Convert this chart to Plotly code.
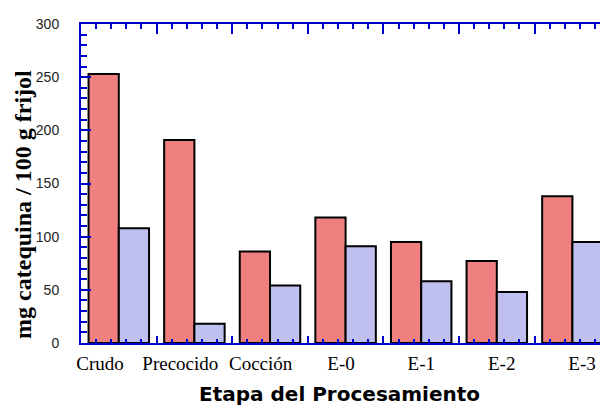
import plotly.graph_objects as go

categories = ["Crudo", "Precocido", "Cocción", "E-0", "E-1", "E-2", "E-3"]
serie_roja = [253, 191, 86, 118, 95, 77, 138]
serie_azul = [108, 18, 54, 91, 58, 48, 95]
y_tick_vals = [0, 50, 100, 150, 200, 250, 300]

AX = "#0000cc"
xpos = list(range(len(categories)))

fig = go.Figure()
fig.add_trace(go.Bar(x=xpos, y=serie_roja, marker=dict(color="#f08080", line=dict(color="black", width=2)),
                     offsetgroup="a", showlegend=False))
fig.add_trace(go.Bar(x=xpos, y=serie_azul, marker=dict(color="#bfbff0", line=dict(color="black", width=2)),
                     offsetgroup="b", showlegend=False))
# helper empty traces to make the extra axes render
fig.add_trace(go.Scatter(x=[], y=[], xaxis="x2", showlegend=False))
fig.add_trace(go.Scatter(x=[], y=[], xaxis="x3", showlegend=False))

xr = [-0.5, 6.365]
fig.update_layout(
    width=600, height=406,
    margin=dict(l=81, r=0, t=24, b=63),
    paper_bgcolor="white", plot_bgcolor="white",
    barmode="group", bargap=0.2, bargroupgap=0,
    hovermode=False,
    xaxis=dict(range=xr, showgrid=False, zeroline=False, showline=True, linecolor=AX, linewidth=2,
               tickmode="linear", tick0=-0.5, dtick=1, ticks="inside", ticklen=7, tickwidth=2, tickcolor=AX,
               showticklabels=False,
               minor=dict(tickmode="linear", tick0=-0.5, dtick=0.2, ticks="inside", ticklen=4, tickwidth=2,
                          tickcolor=AX, showgrid=False)),
    xaxis2=dict(range=xr, overlaying="x", side="top", anchor="y", showgrid=False, zeroline=False,
                showline=True, linecolor=AX, linewidth=2,
                tickmode="linear", tick0=-0.5, dtick=1, ticks="inside", ticklen=10, tickwidth=2, tickcolor=AX,
                showticklabels=False,
                minor=dict(tickmode="linear", tick0=-0.5, dtick=0.2, ticks="inside", ticklen=5, tickwidth=2,
                           tickcolor=AX, showgrid=False)),
    xaxis3=dict(range=[-0.2365, 6.224], overlaying="x", side="bottom", anchor="y", showgrid=False,
                zeroline=False, showline=False, ticks="", tickmode="array", tickvals=xpos, ticktext=categories,
                tickfont=dict(family="Liberation Serif", size=19, color="black"), ticklabelstandoff=7),
    yaxis=dict(range=[0, 300], showgrid=False, zeroline=False, showline=True, linecolor=AX, linewidth=2,
               tickmode="array", tickvals=y_tick_vals, ticks="inside", ticklen=10, tickwidth=2, tickcolor=AX,
               tickfont=dict(family="Liberation Sans", size=14, color="#222"), ticklabelstandoff=17,
               minor=dict(tickmode="linear", tick0=0, dtick=10, ticks="inside", ticklen=6, tickwidth=2,
                          tickcolor=AX, showgrid=False)),
    annotations=[
        dict(text="<b>Etapa del Procesamiento</b>", xref="paper", yref="paper", x=0.4985, y=-0.16,
             xanchor="center", yanchor="middle", showarrow=False,
             font=dict(family="DejaVu Sans", size=20, color="black")),
        dict(text="<b>mg catequina / 100 g frijol</b>", xref="paper", yref="paper", x=-0.112, y=0.4357,
             xanchor="center", yanchor="middle", textangle=-90, showarrow=False,
             font=dict(family="Liberation Serif", size=24, color="black")),
    ],
)

fig.write_html("out.html", config={"displayModeBar": False},
               post_script="document.body.style.margin='0';document.body.style.overflow='hidden';")
